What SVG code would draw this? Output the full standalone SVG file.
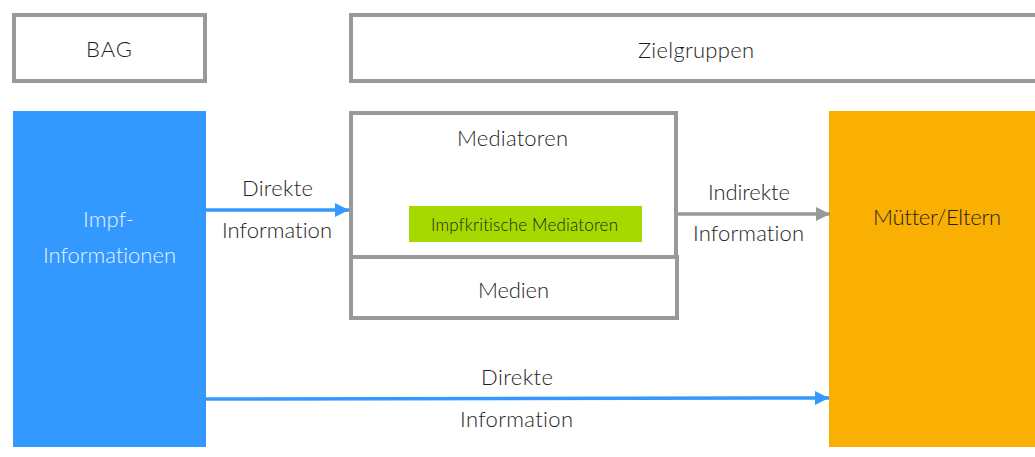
<svg xmlns="http://www.w3.org/2000/svg" width="1035" height="457" viewBox="0 0 1035 457">
<defs>
<style>
.box{fill:#fff;stroke:#999;stroke-width:4}
.t{font-family:Lato,"Open Sans","Liberation Sans",sans-serif;font-weight:300;font-size:22px;fill:#1e1e1e;font-variant-ligatures:none;font-feature-settings:"liga" 0,"dlig" 0}
.w{fill:#e6f1ff}
.s{font-size:17px}
</style>
<marker id="ab" viewBox="0 0 10 10" refX="10" refY="5" markerWidth="4" markerHeight="4" markerUnits="strokeWidth" orient="auto"><path d="M0,0L10,5L0,10z" fill="#3399ff"/></marker>
<marker id="ag" viewBox="0 0 10 10" refX="10" refY="5" markerWidth="4" markerHeight="4" markerUnits="strokeWidth" orient="auto"><path d="M0,0L10,5L0,10z" fill="#999"/></marker>
</defs>
<rect width="1035" height="457" fill="#fff"/>
<g id="bag"><rect class="box" x="14" y="15" width="191" height="66"/><text class="t" x="86" y="57" textLength="46">BAG</text></g>
<g id="zielgruppen"><rect class="box" x="351" y="15" width="700" height="66"/><text class="t" x="638" y="58" textLength="116">Zielgruppen</text></g>
<g id="impf"><rect x="13" y="111" width="193" height="336" fill="#3399ff"/><text class="t w" x="83" y="227" textLength="51">Impf-</text><text class="t w" x="43" y="263" textLength="133">Informationen</text></g>
<g id="mediatoren"><rect class="box" x="351" y="113" width="325" height="144"/><text class="t" x="457" y="146" textLength="111">Mediatoren</text></g>
<g id="impfkritisch"><rect x="409" y="206" width="233" height="36" fill="#a6d900"/><text class="t s" x="431" y="231" textLength="187">Impfkritische Mediatoren</text></g>
<g id="medien"><rect class="box" x="351" y="257" width="326" height="61"/><text class="t" x="478" y="298" textLength="71">Medien</text></g>
<g id="eltern"><rect x="829" y="111" width="206" height="336" fill="#f9b003"/><text class="t" x="873" y="225" textLength="128">Mütter/Eltern</text></g>
<g id="connectors">
<line x1="206" y1="210" x2="349" y2="210" stroke="#3399ff" stroke-width="3.5" marker-end="url(#ab)"/>
<text class="t" x="242" y="196" textLength="71">Direkte</text><text class="t" x="222" y="238" textLength="110">Information</text>
<line x1="678" y1="214" x2="830" y2="214" stroke="#999" stroke-width="3.5" marker-end="url(#ag)"/>
<text class="t" x="708" y="200" textLength="82">Indirekte</text><text class="t" x="693" y="241" textLength="111">Information</text>
<line x1="206" y1="399" x2="829" y2="398" stroke="#3399ff" stroke-width="3.5" marker-end="url(#ab)"/>
<text class="t" x="481" y="385" textLength="72">Direkte</text><text class="t" x="460" y="427" textLength="113">Information</text>
</g>
</svg>
